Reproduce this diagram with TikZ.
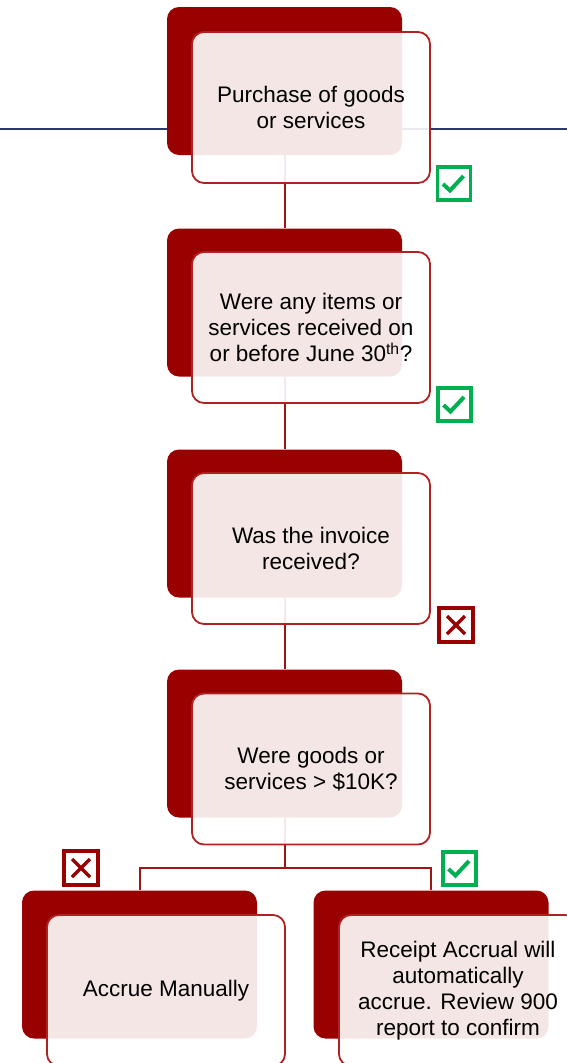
\documentclass[tikz,border=0pt]{standalone}
\usepackage{fontspec}
\setmainfont{Liberation Sans}
\usetikzlibrary{backgrounds}
\definecolor{darkred}{HTML}{990000}
\definecolor{framered}{HTML}{B02222}
\definecolor{linered}{HTML}{9E1515}
\definecolor{navy}{HTML}{2B3A6B}
\definecolor{okgreen}{HTML}{00B050}
\tikzset{
  backbox/.style={draw=none, fill=darkred, rounded corners=12pt, minimum width=235pt, minimum height=148pt, inner sep=0pt},
  frontbox/.style={draw=framered, line width=1.8pt, fill=white, fill opacity=0.9, text opacity=1, rounded corners=12pt, minimum width=238pt, minimum height=151pt, inner sep=0pt, align=center, font=\fontsize{22.5}{26}\selectfont, text=black},
  conn/.style={draw=linered, line width=2pt},
  okbox/.style={draw=okgreen, line width=3.2pt, minimum size=33pt, inner sep=0pt},
  nobox/.style={draw=darkred, line width=3.2pt, minimum size=34pt, inner sep=0pt},
  okmark/.style={draw=okgreen, line width=4pt},
  nomark/.style={draw=darkred, line width=3.5pt},
}
\begin{document}
\begin{tikzpicture}[x=1pt,y=-1pt]
\useasboundingbox (0,0) rectangle (567,1063);
\clip (0,0) rectangle (567,1063);
% back boxes
\node[backbox] (bk1) at (284.5,81) {};
\node[backbox] (bk2) at (284.5,302.5) {};
\node[backbox] (bk3) at (284.5,523.5) {};
\node[backbox] (bk4) at (284.5,743.5) {};
\node[backbox] (bk5) at (139.5,964.5) {};
\node[backbox] (bk6) at (431,964.5) {};
\coordinate (split) at (284.5,868);
% lines behind
\begin{pgfonlayer}{background}
\draw[navy, line width=1.3pt] (0,129) -- (567,129);
\draw[conn] (bk1.south) -- (bk2.north);
\draw[conn] (bk2.south) -- (bk3.north);
\draw[conn] (bk3.south) -- (bk4.north);
\draw[conn] (bk4.south) -- (split);
\draw[conn] (bk5.north) |- (split) -| (bk6.north);
\end{pgfonlayer}
% front boxes
\node[frontbox] (fr1) at (311,107.5) {Purchase of goods\\or services};
\node[frontbox] (fr2) at (311,327.5) {Were any items or\\services received on\\or before June 30\textsuperscript{th}?};
\node[frontbox] (fr3) at (311,548.5) {Was the invoice\\received?};
\node[frontbox] (fr4) at (311,769) {Were goods or\\services > \$10K?};
\node[frontbox] (fr5) at (166,990.5) {Accrue Manually};
\node[frontbox] (fr6) at (458,990.5) {Receipt Accrual will\\automatically\\accrue. Review 900\\report to confirm};
% marks
\node[okbox] (m1) at (454,183.5) {};
\draw[okmark] ([shift={(-11,0.5)}]m1.center) -- ([shift={(-4,7)}]m1.center) -- ([shift={(9.5,-7.5)}]m1.center);
\node[okbox] (m2) at (454.5,404.5) {};
\draw[okmark] ([shift={(-11,0.5)}]m2.center) -- ([shift={(-4,7)}]m2.center) -- ([shift={(9.5,-7.5)}]m2.center);
\node[nobox] (m3) at (456,625) {};
\draw[nomark] ([shift={(-9,-9)}]m3.center) -- ([shift={(9,9)}]m3.center);
\draw[nomark] ([shift={(-9,9)}]m3.center) -- ([shift={(9,-9)}]m3.center);
\node[nobox] (m4) at (81,868) {};
\draw[nomark] ([shift={(-9,-9)}]m4.center) -- ([shift={(9,9)}]m4.center);
\draw[nomark] ([shift={(-9,9)}]m4.center) -- ([shift={(9,-9)}]m4.center);
\node[okbox] (m5) at (459.5,868.5) {};
\draw[okmark] ([shift={(-11,0.5)}]m5.center) -- ([shift={(-4,7)}]m5.center) -- ([shift={(9.5,-7.5)}]m5.center);
\end{tikzpicture}
\end{document}
